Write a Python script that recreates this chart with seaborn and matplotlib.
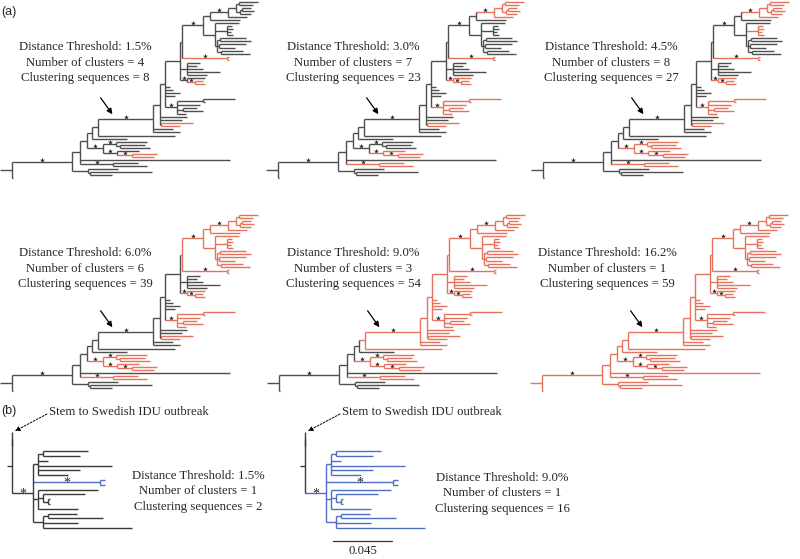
import matplotlib
matplotlib.use("Agg")
import matplotlib.pyplot as plt
from matplotlib.collections import LineCollection
import pandas as pd
import seaborn as sns

# ---- data -------------------------------------------------------------
# Tree of panel (a) in Newick pieces, branch lengths in figure pixels.
# A trailing '*' on a label marks a supported branch (asterisk).
TC = "((:19,:14):3,((:9,:12):2,:11):4)"
C1 = "(" + TC + ":8,:19)c1*:18"
A_ = "(" + C1 + ",:30):7"
B1 = "(:5,:6,:4,:6)B1:12"
B2 = "((:26,:31):3,(:27,:16):2,(:22,:29):4):2"
B_ = "(:24," + B1 + "," + B2 + "):12"
T_ = "(" + A_ + "," + B_ + ")T*:21"
C2 = "(:1.5,:2)c2*:45"
TC2 = "(" + T_ + "," + C2 + ")Tc2:2"
G_ = "(:13,:10,:16,:33,:20):7"
C3 = "(:18,(:8,:10)c3b*:8)c3*:7"
L11 = "(" + TC2 + "," + G_ + "," + C3 + "):15"
D_ = "((:32,:2):26,:23,(:14,:20):6,:9)D*:12"
L10 = "(" + L11 + ",:5,:8,:15,:10," + D_ + "):5"
E_ = "(:32,:19)E:1"
L9 = "(" + L10 + ",:27,:22," + E_ + "):7"
L6 = "(" + L9 + ",:20,:27)L6*:55"
L5 = "(" + L6 + ",:77)L5:6"
L4 = "(" + L5 + ",:35):5"
Q1 = "(:31,(:25,:30):4)Q1*:13"
Q2 = "(:22,(:25,:22)Q2b*:15)Q2*:14"
Q_ = "(" + Q1 + "," + Q2 + ")Q*:16"
L3 = "(" + L4 + "," + Q_ + "):7"
P_ = "(:25,:34)P*:33"
L2 = "(" + L3 + ",:150," + P_ + "):8"
BB = "(:30,(:62,:22):2)Bb:16"
L1 = "(" + L2 + "," + BB + ")L1*:60"
TREE_A = "(" + L1 + ",:1)ROOT:12"

THRESHOLDS = ["1.5%", "3.0%", "4.5%", "6.0%", "9.0%", "16.2%"]
N_CLUSTERS = [4, 7, 8, 6, 3, 1]
N_SEQS = [8, 23, 27, 39, 54, 59]
RED_CLADES = [
    ["c2", "c3b", "E", "Q2b"],
    ["c1", "c2", "c3", "D", "E", "Q2", "P"],
    ["c1", "B1", "c2", "c3", "D", "E", "Q", "P"],
    ["Tc2", "c3", "D", "E", "Q", "P"],
    ["L5", "Q", "P"],
    ["ROOT"],
]

# Tree of panel (b): Swedish IDU outbreak clade
BC1 = "((:45,:37):5,:10,:74,:42,:30):5"
BBL = "(:5,:5)Bl*:67"
BC2 = "(:60,(:42,(:2,:2):5):5,:40):5"
BC3 = "((:29,:55):5,:35,:89):10"
TREE_B = "((:0,:0,:0,:0)O:0,(" + BC1 + "," + BBL + "," + BC2 + "," + BC3 + ")C*:21)R:5"
B_THRESHOLDS = ["1.5%", "9.0%"]
B_CLUSTERS = [1, 1]
B_SEQS = [2, 16]
B_BLUE = [["Bl"], ["C"]]
SCALE_LABEL = "0.045"

# ---- helpers ----------------------------------------------------------
def parse_newick(s):
    pos = 0

    def node():
        nonlocal pos
        children = []
        if s[pos] == "(":
            pos += 1
            children.append(node())
            while s[pos] == ",":
                pos += 1
                children.append(node())
            pos += 1
        start = pos
        while pos < len(s) and s[pos] not in ",():":
            pos += 1
        name = s[start:pos]
        length = 0.0
        if pos < len(s) and s[pos] == ":":
            pos += 1
            start = pos
            while pos < len(s) and s[pos] not in ",()":
                pos += 1
            length = float(s[start:pos])
        return {"name": name.rstrip("*"), "star": name.endswith("*"),
                "len": length, "children": children}

    return node()


def tree_segments(tree, hot):
    segs, stars, pos = [], [], {}
    counter = [0]

    def walk(n, px, inherited):
        x = px + n["len"]
        on = inherited or n["name"] in hot
        if n["children"]:
            ys = [walk(c, x, on) for c in n["children"]]
            y = (ys[0] + ys[-1]) / 2
            segs.append((x, ys[0], x, ys[-1], on))
        else:
            y = counter[0]
            counter[0] += 1
        segs.append((px, y, x, y, on))
        if n["star"]:
            stars.append(((px + x) / 2, y))
        if n["name"]:
            pos[n["name"]] = (px, x, y)
        return y

    walk(tree, 0.0, False)
    return segs, stars, pos, counter[0]


def draw_tree(ax, tree, hot, x0, y_top, y_bot, hot_color, base="#4f4f4f"):
    segs, stars, pos, ntip = tree_segments(tree, hot)
    dy = (y_bot - y_top) / (ntip - 1)
    lines = [[(x0 + a, y_top + b * dy), (x0 + c, y_top + d * dy)] for a, b, c, d, _ in segs]
    cols = [hot_color if on else base for *_, on in segs]
    ax.add_collection(LineCollection(lines, colors=cols, linewidths=1.0, capstyle="butt"))
    sx = [x0 + x for x, _ in stars]
    sy = [y_top + y * dy for _, y in stars]
    pos = {k: (x0 + a, x0 + b, y_top + c * dy) for k, (a, b, c) in pos.items()}
    return sx, sy, pos


# ---- figure -----------------------------------------------------------
sns.set_theme(style="white")
plt.rcParams["font.family"] = ["Liberation Serif", "DejaVu Serif"]

fig = plt.figure(figsize=(8, 5.59), dpi=100)
ax = fig.add_axes([0, 0, 1, 1])
ax.set_xlim(0, 800)
ax.set_ylim(559, 0)
ax.axis("off")

RED = "#e6735d"
BLUE = "#4f6fc2"
tree_a = parse_newick(TREE_A)
panel_x = [0, 266, 531, 0, 267, 530]
text_x = [85, 353, 611, 85, 353, 607]
star_x, star_y = [], []
for i, thr in enumerate(THRESHOLDS):
    row = i // 3
    top = 2 + 213 * row
    sx, sy, pos = draw_tree(ax, tree_a, RED_CLADES[i], panel_x[i], top, top + 176, RED)
    star_x += sx
    star_y += [y - 2 for y in sy]
    ty = 47 + 206 * row
    for k, line in enumerate([f"Distance Threshold: {thr}",
                              f"Number of clusters = {N_CLUSTERS[i]}",
                              f"Clustering sequences = {N_SEQS[i]}"]):
        ax.text(text_x[i], ty + 15.5 * k, line, ha="center", va="center", fontsize=9.2)
    px, nx, ny = pos["L6"]
    ax.annotate("", xy=(px + 16, ny - 2), xytext=(px + 1, ny - 23),
                arrowprops=dict(arrowstyle="-|>", color="black", lw=0.9, mutation_scale=8))

sns.scatterplot(x=star_x, y=star_y, ax=ax, marker="*", s=14, color="#222222",
                linewidth=0, legend=False)

ax.text(1, 12, "(a)", fontsize=9, family="Liberation Sans", va="center")
ax.text(1, 411, "(b)", fontsize=9, family="Liberation Sans", va="center")

# panel (b)
tree_b = parse_newick(TREE_B)
b_x0 = [7, 300]
b_text_x = [198, 502]
b_text_y = [476, 478]
for i, thr in enumerate(B_THRESHOLDS):
    sx, sy, pos = draw_tree(ax, tree_b, B_BLUE[i], b_x0[i], 432, 528, BLUE, base="#3a3a3a")
    for x, y in zip(sx, sy):
        ax.text(x, y + 1, "*", ha="center", va="center", fontsize=10)
    for k, line in enumerate([f"Distance Threshold: {thr}",
                              f"Number of clusters = {B_CLUSTERS[i]}",
                              f"Clustering sequences = {B_SEQS[i]}"]):
        ax.text(b_text_x[i], b_text_y[i] + 15.5 * k, line, ha="center", va="center", fontsize=9.2)
    rx = pos["R"][1]
    ax.text(rx + 37, 412, "Stem to Swedish IDU outbreak", fontsize=9.2, va="center", ha="left")
    ax.annotate("", xy=(rx + 3, 431), xytext=(rx + 35, 414),
                arrowprops=dict(arrowstyle="-|>", color="black", lw=0.7, ls=(0, (2, 1.5)),
                                mutation_scale=7, shrinkA=0, shrinkB=0))

# scale bar (0.045 substitutions = 59 px)
ax.plot([333, 392], [541, 541], color="#333333", lw=0.9)
ax.text(362.5, 551, SCALE_LABEL, ha="center", va="center", fontsize=9.2)

fig.savefig("out.png", dpi=100)
